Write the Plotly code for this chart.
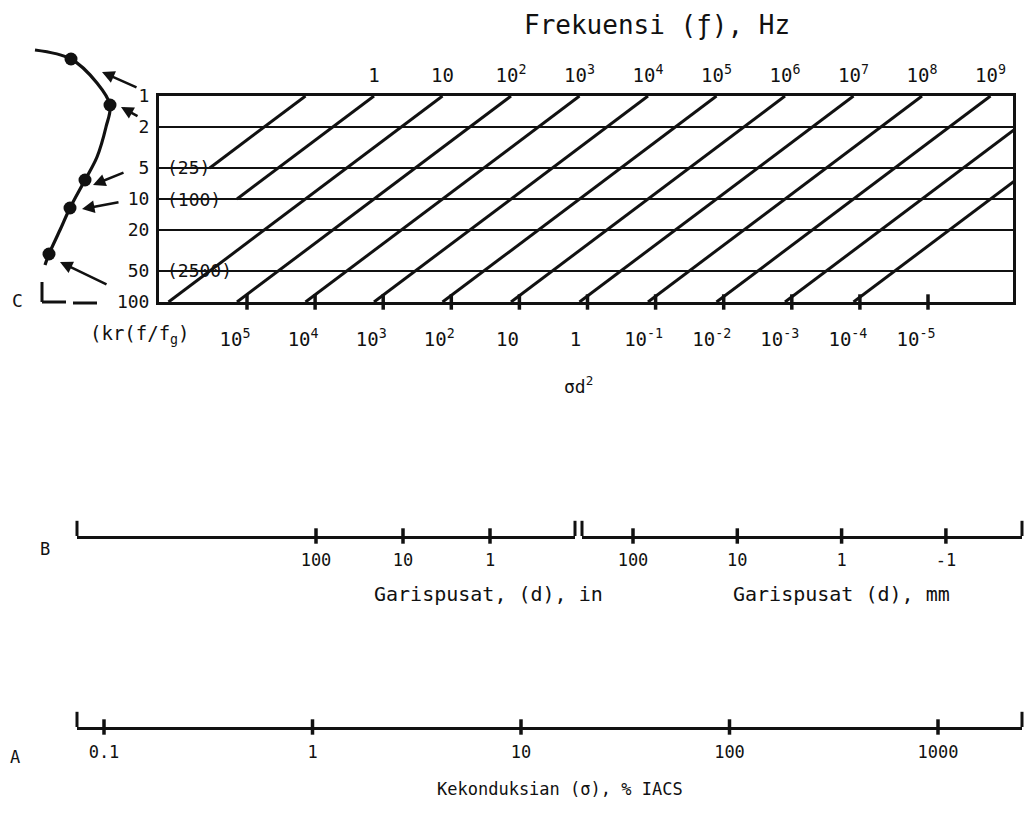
import math
import plotly.graph_objects as go

W, H = 1029, 817
FONT = "DejaVu Sans Mono"
INK = "#111111"

freq_tick_vals = [1, 10, 1e2, 1e3, 1e4, 1e5, 1e6, 1e7, 1e8, 1e9]
freq_tick_text = ["1", "10", "10<sup>2</sup>", "10<sup>3</sup>", "10<sup>4</sup>",
                  "10<sup>5</sup>", "10<sup>6</sup>", "10<sup>7</sup>",
                  "10<sup>8</sup>", "10<sup>9</sup>"]

sd2_tick_vals = [1e5, 1e4, 1e3, 1e2, 10, 1, 1e-1, 1e-2, 1e-3, 1e-4, 1e-5]
sd2_tick_text = ["10<sup>5</sup>", "10<sup>4</sup>", "10<sup>3</sup>", "10<sup>2</sup>",
                 "10", "1", "10<sup>-1</sup>", "10<sup>-2</sup>", "10<sup>-3</sup>",
                 "10<sup>-4</sup>", "10<sup>-5</sup>"]

kr_rows = [1, 2, 5, 10, 20, 50, 100]
kr_row_text = ["1", "2", "5", "10", "20", "50", "100"]
kr_square_rows = [5, 10, 50]
kr_square_text = ["(25)", "(100)", "(2500)"]

# diagonals: frequency where each meets the top (kr = 1) and kr where it begins
diag_top_freq = [1e-1, 1, 10, 1e2, 1e3, 1e4, 1e5, 1e6, 1e7, 1e8, 1e9, 1e10, 1e11]
diag_low_kr = [5, 10, 100, 100, 100, 100, 100, 100, 100, 100, 100, 100, 100]
diag_span_decades = 4.0   # frequency decades covered from kr=100 up to kr=1

d_in_vals = [100, 10, 1]
d_in_text = ["100", "10", "1"]
d_mm_vals = [100, 10, 1, 0.1]
d_mm_text = ["100", "10", "1", "-1"]

sigma_vals = [0.1, 1, 10, 100, 1000]
sigma_text = ["0.1", "1", "10", "100", "1000"]

# decorative hand sketch at the left of scale C (pixel canvas)
sketch_x = [35, 71, 97, 110, 106, 97, 85, 70, 60, 49, 45]
sketch_y = [50, 59, 83, 105, 127, 157, 180, 208, 230, 254, 265]
sketch_dots = [1, 3, 6, 7, 9]
arrow_tails = [(138, 88), (139, 117), (125, 172), (120, 202), (108, 285)]
arrow_heads = [(102, 72), (121, 107), (93, 185), (82, 209), (60, 262)]

# ---------------- geometry ----------------
def px(x):
    return x / W


def py(y):
    return 1 - y / H


BOX_L, BOX_R, BOX_T, BOX_B = 159, 1013, 96, 302
F_PX1, F_PXDEC = 374, 68.5          # frequency scale: pixel of f=1, px per decade
S_PX5, S_PXDEC = 247, 68.1          # sigma*d^2 scale: pixel of 1e5, px per decade
freq_range = [(BOX_L - F_PX1) / F_PXDEC, (BOX_R - F_PX1) / F_PXDEC]
sd2_range = [5 + (S_PX5 - BOX_L) / S_PXDEC, 5 + (S_PX5 - BOX_R) / S_PXDEC]

B_Y, A_Y = 536, 727
IN_L, IN_R, IN_P100, IN_DEC = 77, 575, 316, 87.0
MM_L, MM_R, MM_P100, MM_DEC = 582, 1022, 633, 104.3
A_L, A_R, A_P01, A_DEC = 77, 1022, 104, 208.5
in_range = [2 + (IN_P100 - IN_L) / IN_DEC, 2 + (IN_P100 - IN_R) / IN_DEC]
mm_range = [2 + (MM_P100 - MM_L) / MM_DEC, 2 + (MM_P100 - MM_R) / MM_DEC]
a_range = [-1 + (A_L - A_P01) / A_DEC, -1 + (A_R - A_P01) / A_DEC]

fig = go.Figure()

# ---- diagonals of scale C ----
dx, dy = [], []
for f_top, k0 in zip(diag_top_freq, diag_low_kr):
    j = math.log10(f_top)
    f0 = 10 ** (j - diag_span_decades * math.log10(k0) / 2)
    dx += [f0, f_top, None]
    dy += [k0, 1, None]
fig.add_trace(go.Scatter(x=dx, y=dy, mode="lines", xaxis="x", yaxis="y",
                         line=dict(color=INK, width=3), hoverinfo="skip"))

# sigma*d^2 tick marks on bottom of box
fig.add_trace(go.Scatter(x=sd2_tick_vals, y=[100] * len(sd2_tick_vals), mode="markers",
                         xaxis="x2", yaxis="y", cliponaxis=False,
                         marker=dict(symbol="line-ns", size=11,
                                     line=dict(color=INK, width=3.5)),
                         hoverinfo="skip"))

# ---- scale B ----
tick_marker = dict(symbol="line-ns", size=11, line=dict(color=INK, width=3.5))
fig.add_trace(go.Scatter(x=d_in_vals, y=[0] * len(d_in_vals), mode="markers",
                         xaxis="x3", yaxis="y3", cliponaxis=False,
                         marker=tick_marker, hoverinfo="skip"))
fig.add_trace(go.Scatter(x=d_mm_vals, y=[0] * len(d_mm_vals), mode="markers",
                         xaxis="x4", yaxis="y3", cliponaxis=False,
                         marker=tick_marker, hoverinfo="skip"))
# ---- scale A ----
fig.add_trace(go.Scatter(x=sigma_vals, y=[0] * len(sigma_vals), mode="markers",
                         xaxis="x5", yaxis="y5", cliponaxis=False,
                         marker=tick_marker, hoverinfo="skip"))

# ---- decorative sketch ----
fig.add_trace(go.Scatter(x=sketch_x, y=sketch_y, mode="lines", xaxis="x6", yaxis="y6",
                         line=dict(color=INK, width=3.2, shape="spline"), hoverinfo="skip"))
fig.add_trace(go.Scatter(x=[sketch_x[i] for i in sketch_dots],
                         y=[sketch_y[i] for i in sketch_dots], mode="markers",
                         xaxis="x6", yaxis="y6",
                         marker=dict(color=INK, size=13), hoverinfo="skip"))

tick_font = dict(family=FONT, size=19, color=INK)
small_font = dict(family=FONT, size=17, color=INK)

layout = dict(
    width=W, height=H, margin=dict(l=0, r=0, t=0, b=0, autoexpand=False),
    paper_bgcolor="white", plot_bgcolor="rgba(0,0,0,0)", showlegend=False,
    xaxis=dict(type="log", domain=[px(BOX_L), px(BOX_R)], range=freq_range, side="top",
               anchor="y", tickmode="array", tickvals=freq_tick_vals, ticktext=freq_tick_text,
               ticks="", showgrid=False, zeroline=False, showline=True, mirror=True,
               linecolor=INK, linewidth=3, tickfont=tick_font, ticklabelstandoff=3),
    xaxis2=dict(type="log", overlaying="x", anchor="y", side="bottom", range=sd2_range,
                tickmode="array", tickvals=sd2_tick_vals, ticktext=sd2_tick_text, ticks="",
                showgrid=False, zeroline=False, showline=False, tickfont=tick_font,
                ticklabelstandoff=24, ticklabelshift=12),
    yaxis=dict(type="log", domain=[py(BOX_B), py(BOX_T)], range=[2, 0], anchor="x",
               tickmode="array", tickvals=kr_rows, ticktext=kr_row_text, ticks="",
               showgrid=True, gridcolor=INK, gridwidth=2.3, zeroline=False,
               showline=True, mirror=True, linecolor=INK, linewidth=3,
               tickfont=dict(family=FONT, size=18, color=INK), ticklabelstandoff=3),
    xaxis3=dict(type="log", domain=[px(IN_L), px(IN_R)], range=in_range, anchor="y3",
                tickmode="array", tickvals=d_in_vals, ticktext=d_in_text, ticks="",
                showgrid=False, zeroline=False, showline=True, linecolor=INK, linewidth=2.8,
                tickfont=small_font, ticklabelstandoff=7),
    xaxis4=dict(type="log", domain=[px(MM_L), px(MM_R)], range=mm_range, anchor="y3",
                tickmode="array", tickvals=d_mm_vals, ticktext=d_mm_text, ticks="",
                showgrid=False, zeroline=False, showline=True, linecolor=INK, linewidth=2.8,
                tickfont=small_font, ticklabelstandoff=7),
    yaxis3=dict(domain=[py(B_Y), py(B_Y - 16)], range=[0, 1], anchor="x3", visible=False),
    xaxis5=dict(type="log", domain=[px(A_L), px(A_R)], range=a_range, anchor="y5",
                tickmode="array", tickvals=sigma_vals, ticktext=sigma_text, ticks="",
                showgrid=False, zeroline=False, showline=True, linecolor=INK, linewidth=2.8,
                tickfont=small_font, ticklabelstandoff=8),
    yaxis5=dict(domain=[py(A_Y), py(A_Y - 16)], range=[0, 1], anchor="x5", visible=False),
    xaxis6=dict(domain=[0, 1], range=[0, W], anchor="y6", visible=False),
    yaxis6=dict(domain=[0, 1], range=[H, 0], anchor="x6", visible=False),
)
fig.update_layout(**layout)

shapes = []
# masks under the square labels (between gridlines and traces)
for k, t in zip(kr_square_rows, kr_square_text):
    shapes.append(dict(type="rect", layer="between", xref="paper", yref="y",
                       x0=px(BOX_L + 2), x1=px(BOX_L + 8 + 10.9 * len(t)),
                       y0=k / 1.09, y1=k * 1.09, fillcolor="white", line=dict(width=0)))
# end brackets of scales B and A
for xr, yr in [("x3", "y3"), ("x4", "y3"), ("x5", "y5")]:
    for e in (0, 1):
        shapes.append(dict(type="line", xref=xr + " domain", yref=yr + " domain",
                           x0=e, x1=e, y0=0, y1=0.95, line=dict(color=INK, width=3)))
# "L" bracket near C
shapes.append(dict(type="line", xref="x6", yref="y6", x0=42, x1=42, y0=282, y1=302,
                   line=dict(color=INK, width=3)))
shapes.append(dict(type="line", xref="x6", yref="y6", x0=42, x1=66, y0=302, y1=302,
                   line=dict(color=INK, width=3)))
shapes.append(dict(type="line", xref="x6", yref="y6", x0=73, x1=97, y0=303, y1=303,
                   line=dict(color=INK, width=3)))
fig.update_layout(shapes=shapes)

ann = []
for k, t in zip(kr_square_rows, kr_square_text):
    ann.append(dict(text=t, xref="paper", yref="y", x=px(BOX_L + 6), y=math.log10(k),
                    xanchor="left", yanchor="middle", showarrow=False,
                    font=dict(family=FONT, size=18, color=INK)))
for (tx, ty), (hx, hy) in zip(arrow_tails, arrow_heads):
    ann.append(dict(text="", xref="x6", yref="y6", axref="x6", ayref="y6",
                    x=hx, y=hy, ax=tx, ay=ty, showarrow=True, arrowhead=2,
                    arrowsize=1.0, arrowwidth=2.5, arrowcolor=INK))


def label(text, x, y, size, anchor="center"):
    ann.append(dict(text=text, xref="paper", yref="paper", x=px(x), y=py(y),
                    xanchor=anchor, yanchor="middle", showarrow=False,
                    font=dict(family=FONT, size=size, color=INK)))


label("Frekuensi (ƒ), Hz", 657, 25, 26)
label("(kr(f/f<sub>g</sub>)", 140, 334, 19)
label("σd<sup>2</sup>", 578, 385, 18)
label("Garispusat, (d), in", 488, 594, 20)
label("Garispusat (d), mm", 841, 594, 20)
label("Kekonduksian (σ), % IACS", 560, 789, 17)
label("C", 17, 300, 18)
label("B", 45, 549, 17)
label("A", 15, 757, 17)
fig.update_layout(annotations=ann)

fig.write_html("out.html", config={"displayModeBar": False},
               post_script="document.body.style.margin='0';")
